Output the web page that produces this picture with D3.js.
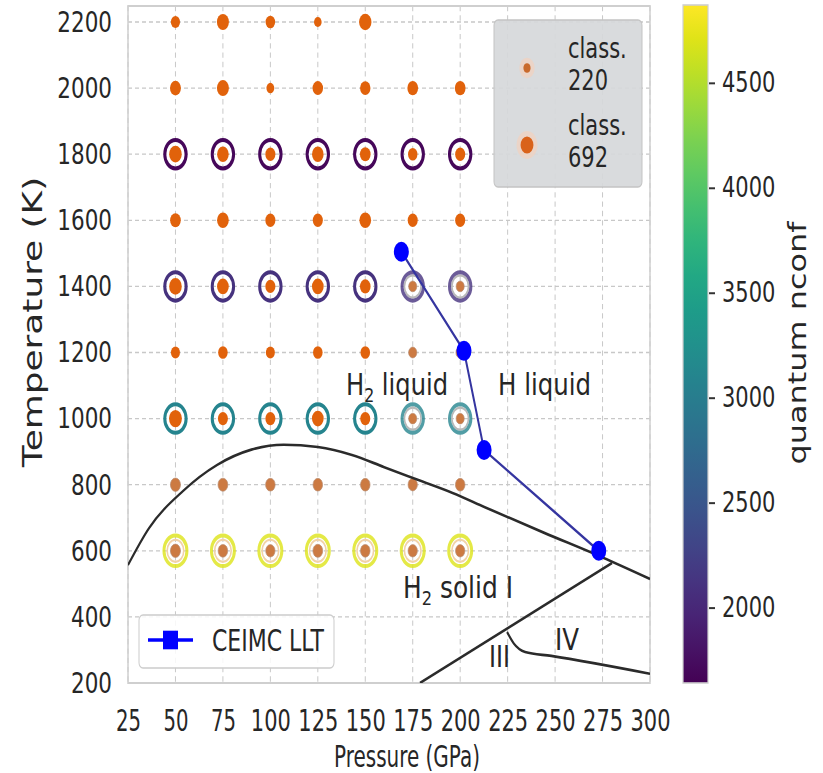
<!DOCTYPE html>
<html>
<head>
<meta charset="utf-8">
<script src="https://cdn.jsdelivr.net/npm/d3@7"></script>
<style>
  body { margin: 0; background: #fff; }
  text { font-family: "DejaVu Sans", sans-serif; fill: #262626; }
</style>
</head>
<body>
<svg id="chart" width="823" height="773"></svg>
<script>
// grid of simulated state points
var pressures = [50, 75, 100, 125, 150, 175, 200];
var temps = [2200, 2000, 1800, 1600, 1400, 1200, 1000, 800, 600];

// classical nconf per point (row = temperature, null = no run)
var classNconf = [
  [350, 600, 380, 240, 640, null, null],
  [500, 600, 260, 460, 450, 480, 480],
  [660, 560, 420, 560, 470, 370, 420],
  [470, 570, 420, 420, 570, 420, 420],
  [660, 570, 420, 570, 470, 270, 270],
  [340, 380, 340, 380, 380, 280, 300],
  [692, 420, 420, 570, 420, 270, 270],
  [420, 400, 380, 380, 380, 360, 380],
  [420, 380, 360, 400, 380, 360, 360]
];
// 1 = faded (brownish) marker
var classFaded = [
  [0, 0, 0, 0, 0, 0, 0],
  [0, 0, 0, 0, 0, 0, 0],
  [0, 0, 0, 0, 0, 0, 0],
  [0, 0, 0, 0, 0, 0, 0],
  [0, 0, 0, 0, 0, 1, 1],
  [0, 0, 0, 0, 0, 1, 1],
  [0, 0, 0, 0, 0, 1, 1],
  [1, 1, 1, 1, 1, 1, 1],
  [1, 1, 1, 1, 1, 1, 1]
];

// quantum runs (rings)
var quantumT = [1800, 1400, 1000, 600];
var quantumNconf = [
  [1700, 1700, 1700, 1700, 1700, 1700, 1700],
  [2100, 2100, 2100, 2100, 2100, 2100, 2100],
  [3100, 3100, 3100, 3100, 3100, 3100, 3100],
  [4700, 4700, 4700, 4700, 4700, 4700, 4700]
];
var quantumFaded = [
  [0, 0, 0, 0, 0, 0, 0],
  [0, 0, 0, 0, 0, 1, 1],
  [0, 0, 0, 0, 0, 1, 1],
  [1, 1, 1, 1, 1, 1, 1]
];

// CEIMC liquid-liquid transition
var lltP = [169, 202, 212.6, 273];
var lltT = [1505, 1205, 905, 600];

// phase lines
var meltP = [25, 36, 54, 72, 90, 107, 125, 143, 160, 178, 196, 213, 244, 275, 300];
var meltT = [557, 668, 781, 860, 906, 921, 914, 890, 853, 814, 775, 732, 655, 580, 515];
var lineI3P = [178.8, 280];
var lineI3T = [200, 563];
var line34P = [224.7, 228.2, 234.2, 248, 300];
var line34T = [354, 320, 294, 282, 228];

var xTicks = [25, 50, 75, 100, 125, 150, 175, 200, 225, 250, 275, 300];
var yTicks = [200, 400, 600, 800, 1000, 1200, 1400, 1600, 1800, 2000, 2200];
var cTicks = [2000, 2500, 3000, 3500, 4000, 4500];
var legendSizes = [220, 692];

// the picture is stretched vertically
var SY = 1.33;
function py(v) { return v / SY; }

var orange = "#e1620b";
var faded = "#cc7a42";
var fmt = d3.format("d");

var svg = d3.select("#chart");
var g = svg.append("g").attr("transform", "scale(1," + SY + ")");

var x = d3.scaleLinear().domain([25, 300]).range([128, 650]);
var y = d3.scaleLinear().domain([200, 2200]).range([py(683), py(22)]);
var plotTop = py(6), plotBot = py(683);

var cMin = 1640, cMax = 4870;
var color = function(v) { return d3.interpolateViridis((v - cMin) / (cMax - cMin)); };
var rSize = function(n) { return 0.245 * Math.sqrt(n); };

// frame + grid
g.append("rect")
  .attr("x", 128).attr("y", plotTop)
  .attr("width", 522).attr("height", plotBot - plotTop)
  .attr("fill", "#fff");

g.append("g").selectAll("line").data(xTicks).enter().append("line")
  .attr("x1", function(d) { return x(d); }).attr("x2", function(d) { return x(d); })
  .attr("y1", plotTop).attr("y2", plotBot)
  .attr("stroke", "#c8c8c8").attr("stroke-width", 1).attr("stroke-dasharray", "4,3");

g.append("g").selectAll("line").data(yTicks).enter().append("line")
  .attr("x1", 128).attr("x2", 650)
  .attr("y1", function(d) { return y(d); }).attr("y2", function(d) { return y(d); })
  .attr("stroke", "#c8c8c8").attr("stroke-width", 1).attr("stroke-dasharray", "4,3");

g.append("rect")
  .attr("x", 128).attr("y", plotTop)
  .attr("width", 522).attr("height", plotBot - plotTop)
  .attr("fill", "none").attr("stroke", "#cfcfcf").attr("stroke-width", 1.5);

// axes
var yAxis = g.append("g").attr("transform", "translate(128,0)")
  .call(d3.axisLeft(y).tickValues(yTicks).tickFormat(fmt).tickSize(0).tickPadding(16));
yAxis.select(".domain").remove();
yAxis.selectAll("text").style("font-size", "21.5px").style("font-family", "DejaVu Sans").attr("fill", "#333");

var xAxis = g.append("g").attr("transform", "translate(0," + plotBot + ")")
  .call(d3.axisBottom(x).tickValues(xTicks).tickFormat(fmt).tickSize(0).tickPadding(py(731) - plotBot - 0.71 * 23));
xAxis.select(".domain").remove();
xAxis.selectAll("text").style("font-size", "23px").style("font-family", "DejaVu Sans").attr("fill", "#262626")
  .attr("textLength", function(d) { return d < 100 ? 25 : 40; })
  .attr("lengthAdjust", "spacingAndGlyphs");

g.append("text")
  .attr("transform", "translate(42," + py(322) + ") rotate(-90)")
  .attr("text-anchor", "middle")
  .style("font-size", "27px")
  .text("Temperature (K)");

g.append("text")
  .attr("x", 407).attr("y", py(767))
  .attr("text-anchor", "middle")
  .style("font-size", "22px")
  .attr("textLength", 146).attr("lengthAdjust", "spacingAndGlyphs")
  .text("Pressure (GPa)");

// clip for the phase lines
svg.append("defs").append("clipPath").attr("id", "plotclip")
  .append("rect").attr("x", 128).attr("y", plotTop).attr("width", 522).attr("height", plotBot - plotTop);

var plot = g.append("g").attr("clip-path", "url(#plotclip)");

// classical points
var pts = [];
temps.forEach(function(t, i) {
  pressures.forEach(function(p, j) {
    if (classNconf[i][j] != null) pts.push({P: p, T: t, n: classNconf[i][j], f: classFaded[i][j]});
  });
});

// quantum rings
var rings = [];
quantumT.forEach(function(t, i) {
  pressures.forEach(function(p, j) {
    rings.push({P: p, T: t, n: quantumNconf[i][j], f: quantumFaded[i][j]});
  });
});

plot.selectAll("circle.ringhalo").data(rings.filter(function(d) { return d.f; })).enter().append("circle")
  .attr("class", "ringhalo")
  .attr("cx", function(d) { return x(d.P); }).attr("cy", function(d) { return y(d.T); })
  .attr("r", 8.3)
  .attr("fill", "none")
  .attr("stroke", function(d) { return d.T == 600 ? "#f1d2a8" : "#b9b9b9"; })
  .attr("stroke-width", 1.6);

plot.selectAll("circle.ring").data(rings).enter().append("circle")
  .attr("class", "ring")
  .attr("cx", function(d) { return x(d.P); }).attr("cy", function(d) { return y(d.T); })
  .attr("r", function(d) { return d.T == 600 ? 11.5 : 10.7; })
  .attr("fill", "none")
  .attr("stroke", function(d) { return color(d.n); })
  .attr("stroke-opacity", function(d) { return d.f ? 0.8 : 1; })
  .attr("stroke-width", 3);

plot.selectAll("circle.cls").data(pts).enter().append("circle")
  .attr("class", "cls")
  .attr("cx", function(d) { return x(d.P); }).attr("cy", function(d) { return y(d.T); })
  .attr("r", function(d) { return rSize(d.n); })
  .attr("fill", function(d) { return d.f ? faded : orange; })
  .attr("stroke", function(d) { return d.f ? "#b98c70" : "none"; })
  .attr("stroke-width", 0.6);

// phase boundaries
var pline = d3.line()
  .x(function(d) { return x(d[0]); })
  .y(function(d) { return y(d[1]); });

plot.append("path")
  .datum(d3.zip(meltP, meltT))
  .attr("d", pline.curve(d3.curveMonotoneX))
  .attr("fill", "none").attr("stroke", "#2b2b2b").attr("stroke-width", 2);

plot.append("path")
  .datum(d3.zip(lineI3P, lineI3T))
  .attr("d", pline.curve(d3.curveLinear))
  .attr("fill", "none").attr("stroke", "#2b2b2b").attr("stroke-width", 2);

plot.append("path")
  .datum(d3.zip(line34P, line34T))
  .attr("d", pline.curve(d3.curveMonotoneX))
  .attr("fill", "none").attr("stroke", "#2b2b2b").attr("stroke-width", 2);

// CEIMC LLT
var llt = d3.zip(lltP, lltT);
plot.append("path")
  .datum(llt)
  .attr("d", pline.curve(d3.curveLinear))
  .attr("fill", "none").attr("stroke", "#3535a0").attr("stroke-width", 2);

plot.selectAll("circle.llt").data(llt).enter().append("circle")
  .attr("class", "llt")
  .attr("cx", function(d) { return x(d[0]); }).attr("cy", function(d) { return y(d[1]); })
  .attr("r", 7.5)
  .attr("fill", "#0000ff");

// phase labels
function label(xp, yp, main, sub, rest, len) {
  var t = g.append("text").attr("x", xp).attr("y", py(yp)).style("font-size", "23px");
  t.append("tspan").text(main);
  if (sub) {
    t.append("tspan").attr("dy", 5).style("font-size", "15px").text(sub);
    t.append("tspan").attr("dy", -5).text(rest);
  }
  if (len) t.attr("textLength", len).attr("lengthAdjust", "spacingAndGlyphs");
}
label(346, 395, "H", "2", " liquid", 102);
label(498, 395, "H liquid", null, null, 93);
label(403, 598, "H", "2", " solid I", 110);
label(489, 667, "III", null, null, 21);
label(555, 650, "IV", null, null, 24);

// classical size legend (top right)
g.append("rect")
  .attr("x", 494).attr("y", py(20))
  .attr("width", 148).attr("height", py(187) - py(20))
  .attr("rx", 4)
  .attr("fill", "#d6d8da").attr("fill-opacity", 0.92)
  .attr("stroke", "#c4c4c4");

var legY = [68, 145];
var legText = [["class.", "220"], ["class.", "692"]];
legendSizes.forEach(function(n, i) {
  g.append("circle").attr("cx", 527).attr("cy", py(legY[i]))
    .attr("r", rSize(n) + 4).attr("fill", "#f2d2bd").attr("fill-opacity", 0.7);
  g.append("circle").attr("cx", 527).attr("cy", py(legY[i]))
    .attr("r", i == 0 ? 3.6 : rSize(n)).attr("fill", i == 0 ? "#c96a2c" : "#d9621a");
  g.append("text").attr("x", 568).attr("y", py(legY[i] - 10)).style("font-size", "21px").attr("fill", "#333").text(legText[i][0]);
  g.append("text").attr("x", 568).attr("y", py(legY[i] + 22)).style("font-size", "21px").attr("fill", "#333").text(legText[i][1]);
});

// LLT legend (bottom left)
g.append("rect")
  .attr("x", 139).attr("y", py(615))
  .attr("width", 195).attr("height", py(668) - py(615))
  .attr("rx", 4)
  .attr("fill", "#fff").attr("fill-opacity", 0.85)
  .attr("stroke", "#cccccc");
g.append("line").attr("x1", 148).attr("x2", 193).attr("y1", py(640)).attr("y2", py(640))
  .attr("stroke", "#0000ff").attr("stroke-width", 2.5);
g.append("rect").attr("x", 163).attr("y", py(640) - 7).attr("width", 15).attr("height", 14).attr("fill", "#0000ff");
g.append("text").attr("x", 212).attr("y", py(651)).style("font-size", "22px").attr("fill", "#333").text("CEIMC LLT");

// colorbar
var grad = svg.select("defs").append("linearGradient").attr("id", "viridis")
  .attr("x1", 0).attr("y1", 1).attr("x2", 0).attr("y2", 0);
d3.range(0, 1.0001, 0.05).forEach(function(t) {
  grad.append("stop").attr("offset", t).attr("stop-color", d3.interpolateViridis(t));
});

var c = d3.scaleLinear().domain([cMin, cMax]).range([py(683), py(5)]);
g.append("rect")
  .attr("x", 683).attr("y", py(5))
  .attr("width", 25).attr("height", py(683) - py(5))
  .attr("fill", "url(#viridis)")
  .attr("stroke", "#cfcfcf").attr("stroke-width", 1.2);

var cAxis = g.append("g").attr("transform", "translate(709,0)")
  .call(d3.axisRight(c).tickValues(cTicks).tickFormat(fmt).tickSize(6).tickPadding(7));
cAxis.select(".domain").remove();
cAxis.selectAll("line").attr("stroke", "#333").attr("stroke-width", 1.5);
cAxis.selectAll("text").style("font-size", "21px").style("font-family", "DejaVu Sans").attr("fill", "#333");

g.append("text")
  .attr("transform", "translate(806," + py(343) + ") rotate(-90)")
  .attr("text-anchor", "middle")
  .style("font-size", "24px")
  .attr("fill", "#333")
  .text("quantum nconf");
</script>
</body>
</html>
